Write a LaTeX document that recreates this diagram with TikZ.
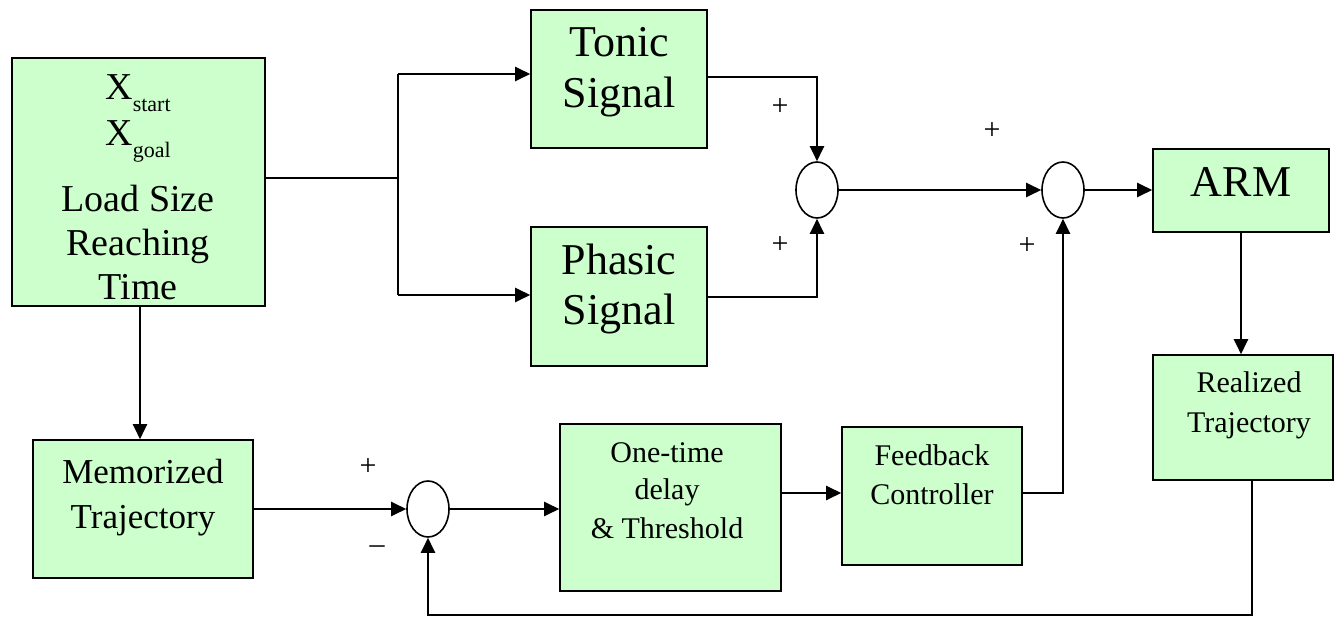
\documentclass[tikz,border=0pt]{standalone}
\usepackage{fontspec}
\setmainfont{Liberation Serif}
\usetikzlibrary{arrows.meta,shapes.geometric}
\definecolor{boxgreen}{HTML}{CCFFCC}
\tikzset{
  blk/.style={draw=black, line width=1.6pt, fill=boxgreen, rectangle, inner sep=0pt},
  sumnode/.style={draw=black, line width=1.6pt, ellipse, minimum width=42pt, minimum height=56pt, inner sep=0pt},
  conn/.style={line width=2.3pt},
  arr/.style={conn, -{Triangle[length=15pt,width=14pt]}},
  txtl/.style={anchor=base, inner sep=0pt, font=\fontsize{44}{44}\selectfont},
  txt/.style={anchor=base, inner sep=0pt, font=\fontsize{38}{38}\selectfont},
  txtm/.style={anchor=base, inner sep=0pt, font=\fontsize{35}{35}\selectfont},
  txts/.style={anchor=base, inner sep=0pt, font=\fontsize{30}{30}\selectfont},
  sgn/.style={inner sep=0pt, font=\fontsize{30}{30}\selectfont}
}
\begin{document}
\begin{tikzpicture}[x=1pt,y=-1pt]
\useasboundingbox (0,0) rectangle (1334,617);
% boxes
\node[blk, minimum width=253pt, minimum height=248pt] (inp) at (138.5,182) {};
\node[blk, minimum width=176pt, minimum height=138pt] (tonic) at (619,79) {};
\node[blk, minimum width=176pt, minimum height=139pt] (phasic) at (619,296.5) {};
\node[blk, minimum width=176pt, minimum height=83pt] (arm) at (1241,190.5) {};
\node[blk, minimum width=180pt, minimum height=125pt] (real) at (1243,417.5) {};
\node[blk, minimum width=220pt, minimum height=138pt] (mem) at (143,509) {};
\node[blk, minimum width=221pt, minimum height=167pt] (delay) at (670.5,507.5) {};
\node[blk, minimum width=180pt, minimum height=138pt] (fb) at (932,496) {};
% summing junctions
\node[sumnode] (s1) at (817,190) {};
\node[sumnode] (s2) at (1063,190) {};
\node[sumnode] (s3) at (428,509) {};
% texts
\node[anchor=base, inner sep=0pt] (t1) at (138,100) {\fontsize{38}{38}\selectfont X\raisebox{-12pt}{\fontsize{22}{22}\selectfont start}};
\node[anchor=base, inner sep=0pt] (t2) at (138,146) {\fontsize{38}{38}\selectfont X\raisebox{-12pt}{\fontsize{22}{22}\selectfont goal}};
\node[txt] (t3) at (138,212) {Load Size};
\node[txt] (t4) at (138,256) {Reaching};
\node[txt] (t5) at (138,300) {Time};
\node[txtl] (t6) at (619,57) {Tonic};
\node[txtl] (t7) at (619,108) {Signal};
\node[txtl] (t8) at (619,275) {Phasic};
\node[txtl] (t9) at (619,325) {Signal};
\node[txtl] (t10) at (1241,197) {ARM};
\node[txts] (t11) at (1249,393) {Realized};
\node[txts] (t12) at (1249,433) {Trajectory};
\node[txtm] (t13) at (143,483) {Memorized};
\node[txtm] (t14) at (143,528) {Trajectory};
\node[txts] (t15) at (667,463) {One-time};
\node[txts] (t16) at (667,500) {delay};
\node[txts] (t17) at (667,538) {\& Threshold};
\node[txts] (t18) at (932,466) {Feedback};
\node[txts] (t19) at (932,504) {Controller};
% signs
\node[sgn] (p1) at (780,107) {+};
\node[sgn] (p2) at (780,245) {+};
\node[sgn] (p3) at (992,131) {+};
\node[sgn] (p4) at (1027,246) {+};
\node[sgn] (p5) at (368,467) {+};
\node[sgn] (m1) at (377,550) {–};
% branch
\coordinate (br) at (398,178);
\coordinate (brt) at (398,74);
\coordinate (brb) at (398,295);
\draw[conn] (inp.east |- br) -- (br);
\draw[conn] (brt) -- (brb);
\draw[arr] (brt) -- (tonic.west |- brt);
\draw[arr] (brb) -- (phasic.west |- brb);
% tonic / phasic to s1
\draw[arr] (tonic.east |- 0,77) -| (s1.north);
\draw[arr] (phasic.east |- 0,297) -| (s1.south);
% s1 to s2 to arm
\draw[arr] (s1.east) -- (s2.west);
\draw[arr] (s2.east) -- (arm.west |- s2.east);
% arm to realized
\draw[arr] (arm.south) -- (real.north -| arm.south);
% input to memorized
\draw[arr] (140,0 |- inp.south) -- (140,0 |- mem.north);
% memorized to s3
\draw[arr] (mem.east |- s3.west) -- (s3.west);
\draw[arr] (s3.east) -- (delay.west |- s3.east);
\draw[arr] (delay.east |- 0,493) -- (fb.west |- 0,493);
\draw[arr] (fb.east |- 0,493) -| (s2.south);
% feedback loop
\coordinate (lp1) at (1252,615);
\draw[arr] (real.south -| lp1) -- (lp1) -| (s3.south);
\end{tikzpicture}
\end{document}
